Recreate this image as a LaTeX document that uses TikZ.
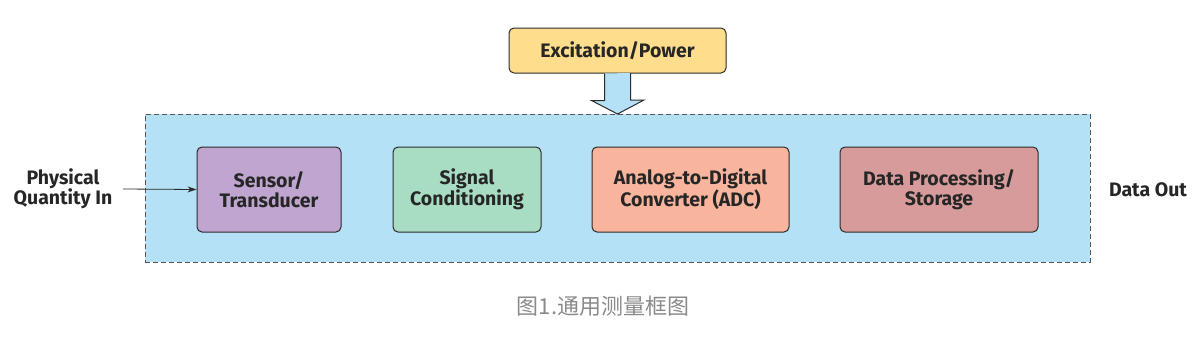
\documentclass[tikz,border=0pt]{standalone}
\usepackage{fontspec}
\setmainfont{Fira Sans}
\newfontfamily\cjk{Noto Sans CJK SC}
\usetikzlibrary{arrows.meta}
\definecolor{edge}{HTML}{2B2B2B}
\definecolor{pwr}{HTML}{FEDD8C}
\definecolor{sky}{HTML}{B5E1F6}
\definecolor{sens}{HTML}{C0A5D0}
\definecolor{sig}{HTML}{A8DCC3}
\definecolor{adc}{HTML}{F8B49C}
\definecolor{dat}{HTML}{D69B9A}
\definecolor{capt}{HTML}{8A8A8A}
\tikzset{
  x=1pt,y=-1pt,
  blk/.style={draw=edge,line width=1pt,rounded corners=5pt,inner sep=0pt,
    font=\bfseries\fontsize{19.5}{20.5}\selectfont,align=center,text=black!85},
  lbl/.style={font=\bfseries\fontsize{19.5}{20.5}\selectfont,align=center,text=black!85},
}
\begin{document}
\begin{tikzpicture}
\useasboundingbox (0,0) rectangle (1203,343);
% container
\node[draw=edge!80,fill=sky,dashed,line width=1pt,dash pattern=on 5pt off 3pt,
  minimum width=945pt,minimum height=148pt,inner sep=0pt] (sys) at (617.5,188) {};
% power box
\node[blk,fill=pwr,minimum width=217pt,minimum height=45pt] (pwr) at (617.5,50.5) {Excitation/Power};
% block arrow
\coordinate (tip) at (617.5,114);
\draw[draw=edge,fill=sky,line width=1pt,line join=miter]
  (pwr.south) ++(-13,0) -- ++(0,27) -- ++(-13,0) -- (tip) -- ++(26.5,-14) -- ++(-13.5,0) -- ++(0,-27);
% blocks
\node[blk,fill=sens,minimum width=144pt,minimum height=85pt] (sen) at (269,189.5) {Sensor/\\Transducer};
\node[blk,fill=sig,minimum width=148pt,minimum height=85pt] (sig) at (467,189.5) {Signal\\Conditioning};
\node[blk,fill=adc,minimum width=197pt,minimum height=85pt] (adc) at (690.5,189.5) {Analog-to-Digital\\Converter (ADC)};
\node[blk,fill=dat,minimum width=198pt,minimum height=85pt] (dat) at (939,189.5) {Data Processing/\\Storage};
% labels
\node[lbl] (pin) at (63,189) {Physical\\Quantity In};
\node[lbl] (out) at (1148,190) {Data Out};
\coordinate (inS) at (123,189);
\draw[-{Stealth[length=9pt,width=6pt]},line width=0.8pt,draw=edge] (inS) -- (sen.west);
\node[font=\cjk\fontsize{22}{24}\selectfont,text=capt] (cap) at (603,306) {图1.通用测量框图};
\end{tikzpicture}
\end{document}
